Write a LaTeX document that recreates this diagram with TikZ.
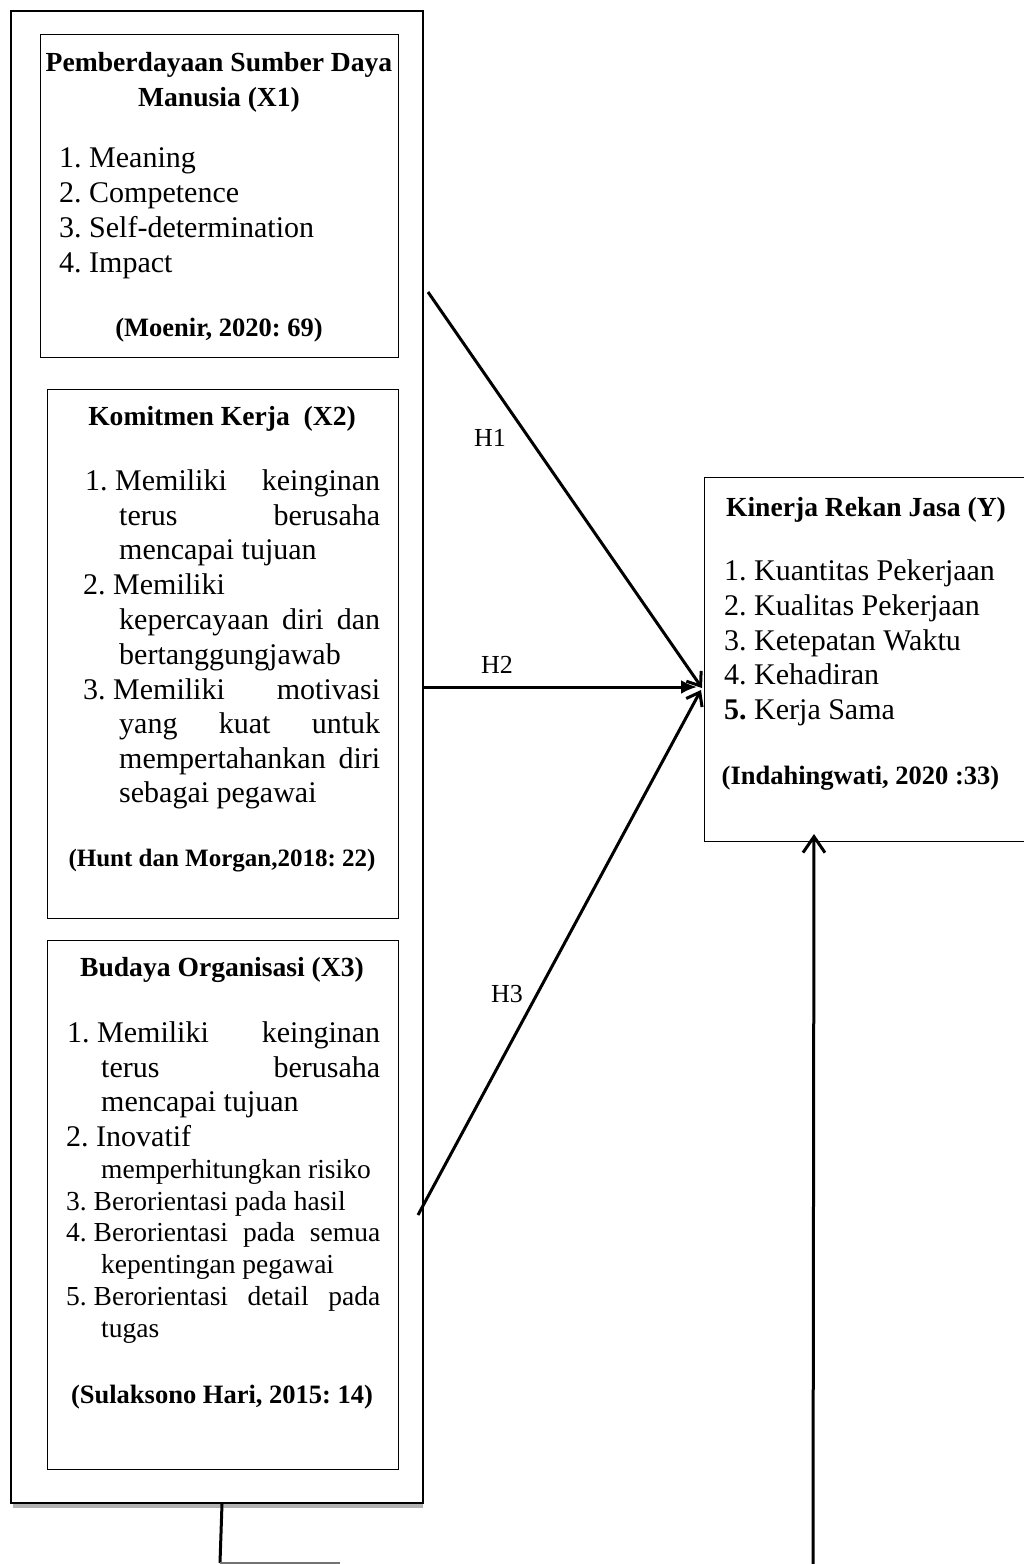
\documentclass[tikz,border=0pt]{standalone}
\usepackage{fontspec}
\setmainfont{Liberation Serif}
\usetikzlibrary{arrows.meta}
\frenchspacing
\newcommand{\jl}[2]{\hbox to #1{#2}}
\begin{document}
\begin{tikzpicture}[x=1pt,y=-1pt,
  box/.style={draw, line width=1pt, inner sep=0pt},
  hd/.style={font=\fontsize{27.6}{33}\selectfont\bfseries, anchor=base, inner sep=0pt},
  ct/.style={font=\fontsize{26.5}{32}\selectfont\bfseries, anchor=base, inner sep=0pt},
  li/.style={font=\fontsize{30}{35}\selectfont, anchor=base west, inner sep=0pt},
  lis/.style={font=\fontsize{27.5}{32}\selectfont, anchor=base west, inner sep=0pt},
  hl/.style={font=\fontsize{26}{30}\selectfont, anchor=base, inner sep=0pt},
  arr/.style={line width=3pt},
  barb/.style={-{Straight Barb[length=12pt,width=18pt,line width=3pt]}},
  solid head/.style={-{Latex[length=16pt,width=14pt]}}
]
\useasboundingbox (0,0) rectangle (1024,1564);
% outer box with light shadow
\draw[black!30, line width=4pt] (13,1506) -- (423,1506);
\node[draw, line width=2pt, inner sep=0pt, minimum width=412pt, minimum height=1492pt] (outer) at (217,757) {};
% X1
\node[box, minimum width=358pt, minimum height=323pt] (x1) at (219,195.5) {};
\node[hd] (x1h1) at (219,71) {Pemberdayaan Sumber Daya};
\node[hd] (x1h2) at (219,106) {Manusia (X1)};
\node[li] (x1a) at (59,167) {1. Meaning};
\node[li] (x1b) at (59,202) {2. Competence};
\node[li] (x1c) at (59,237) {3. Self-determination};
\node[li] (x1d) at (59,272) {4. Impact};
\node[ct] (x1s) at (219,336) {(Moenir, 2020: 69)};
% X2
\node[box, minimum width=351pt, minimum height=529pt] (x2) at (222.5,653.5) {};
\node[hd] (x2h) at (222,425) {Komitmen Kerja\ \ (X2)};
\node[li] (x2a) at (85,490) {\jl{295pt}{1. Memiliki\hfill keinginan}};
\node[li] (x2b) at (119,525) {\jl{261pt}{terus\hfill berusaha}};
\node[li] (x2c) at (119,559) {mencapai tujuan};
\node[li] (x2d) at (83,594) {2. Memiliki};
\node[li] (x2e) at (119,629) {\jl{261pt}{kepercayaan\hfill diri\hfill dan}};
\node[li] (x2f) at (119,664) {bertanggungjawab};
\node[li] (x2g) at (83,699) {\jl{297pt}{3. Memiliki\hfill motivasi}};
\node[li] (x2h) at (119,733) {\jl{261pt}{yang\hfill kuat\hfill untuk}};
\node[li] (x2i) at (119,768) {\jl{261pt}{mempertahankan\hfill diri}};
\node[li] (x2j) at (119,802) {sebagai pegawai};
\node[ct, font=\fontsize{25}{30}\selectfont\bfseries] (x2s) at (222,866) {(Hunt dan Morgan,2018: 22)};
% X3
\node[box, minimum width=351pt, minimum height=529pt] (x3) at (222.5,1204.5) {};
\node[hd] (x3h) at (222,976) {Budaya Organisasi (X3)};
\node[li] (x3a) at (67,1042) {\jl{313pt}{1. Memiliki\hfill keinginan}};
\node[li] (x3b) at (101,1077) {\jl{279pt}{terus\hfill berusaha}};
\node[li] (x3c) at (101,1111) {mencapai tujuan};
\node[li] (x3d) at (66,1146) {2. Inovatif};
\node[lis] (x3e) at (101,1178) {memperhitungkan risiko};
\node[lis] (x3f) at (66,1210) {3. Berorientasi pada hasil};
\node[lis] (x3g) at (66,1241) {\jl{314pt}{4. Berorientasi\hfill pada\hfill semua}};
\node[lis] (x3h2) at (101,1273) {kepentingan pegawai};
\node[lis] (x3i) at (66,1305) {\jl{314pt}{5. Berorientasi\hfill detail\hfill pada}};
\node[lis] (x3j) at (101,1337) {tugas};
\node[ct] (x3s) at (222,1403) {(Sulaksono Hari, 2015: 14)};
% Y box (open on the right)
\node[inner sep=0pt, minimum width=325pt, minimum height=363pt] (y) at (867.5,659.5) {};
\draw[line width=1pt] (y.north east) -- (y.north west) -- (y.south west) -- (y.south east);
\node[hd] (yh) at (866,516) {Kinerja Rekan Jasa (Y)};
\node[li] (ya) at (724,580) {1. Kuantitas Pekerjaan};
\node[li] (yb) at (724,615) {2. Kualitas Pekerjaan};
\node[li] (yc) at (724,650) {3. Ketepatan Waktu};
\node[li] (yd) at (724,684) {4. Kehadiran};
\node[li] (ye) at (724,719) {\textbf{5.} Kerja Sama};
\node[ct] (ys) at (860.5,784) {(Indahingwati, 2020 :33)};
% connectors
\coordinate (yin) at (702,688);
\coordinate (yin2) at (697,687);
\coordinate (yin3) at (701,690);
\coordinate (h1s) at (428,292);
\coordinate (h3s) at (418,1215);
\draw[arr, barb] (h1s) -- (yin);
\draw[arr, solid head] (outer.east |- yin2) -- (yin2);
\draw[arr, barb] (h3s) -- (yin3);
\node[hl] (h1) at (490,446) {H1};
\node[hl] (h2) at (497,673) {H2};
\node[hl] (h3) at (507,1002) {H3};
% bottom loop
\coordinate (bl) at (220,1563);
\coordinate (br) at (340,1563);
\coordinate (bu) at (813,1566);
\coordinate (ytip) at (814,834);
\draw[line width=3pt] ([xshift=5pt]outer.south) -- (bl);
\draw[line width=3pt, black!55] (bl) -- (br);
\draw[line width=3pt, -{Straight Barb[length=16pt,width=22pt,line width=3pt]}] (bu) -- (ytip);
\end{tikzpicture}
\end{document}
